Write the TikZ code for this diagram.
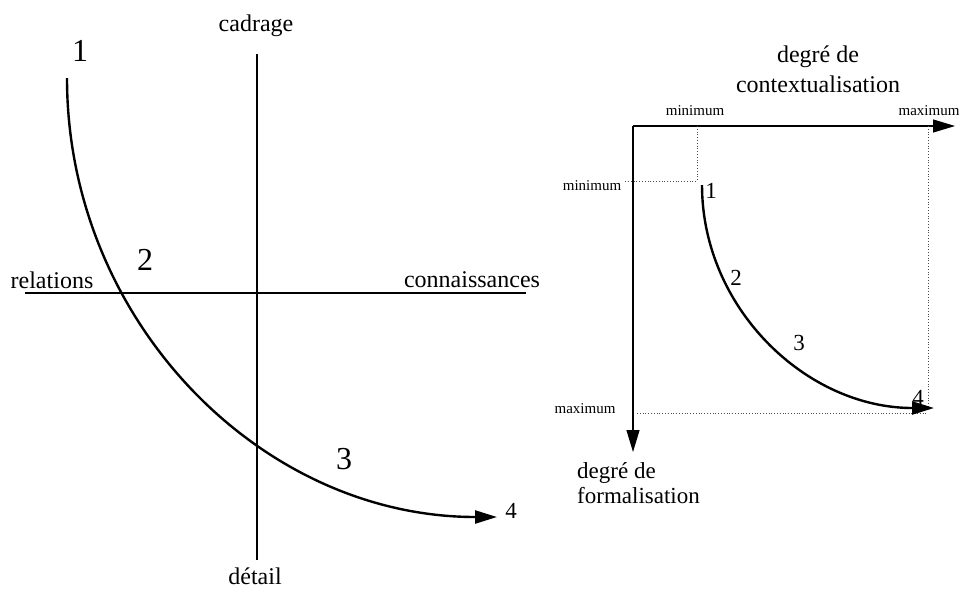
\documentclass[tikz,border=0pt]{standalone}
\usepackage{fontspec}
\setmainfont{Liberation Serif}
\usetikzlibrary{arrows.meta}
\tikzset{
  lbl/.style={inner sep=0pt, font=\fontsize{24}{26}\selectfont},
  num/.style={inner sep=0pt, font=\fontsize{32}{34}\selectfont},
  rnum/.style={inner sep=0pt, font=\fontsize{23}{25}\selectfont},
  small/.style={inner sep=0pt, font=\fontsize{15}{17}\selectfont},
  axis/.style={line width=1.2pt},
  bigarrow/.style={-{Triangle[length=22pt,width=13pt]}},
  curve/.style={line width=2.4pt},
  guide/.style={line width=0.8pt, dotted, black!70}
}
\begin{document}
\begin{tikzpicture}[x=1pt,y=-1pt]
\useasboundingbox (0,0) rectangle (960,590);
% ---------- left diagram ----------
\coordinate (vt) at (257,54);
\coordinate (vb) at (257,560);
\coordinate (hl) at (25,293);
\coordinate (hr) at (526,293);
\draw[axis] (vt) -- (vb);
\draw[axis] (hl) -- (hr);
\node[lbl] (cad) at (256,26) {cadrage};
\node[lbl] (det) at (255,576) {détail};
\node[lbl] (rel) at (52,280) {relations};
\node[lbl] (con) at (472,280) {connaissances};
\coordinate (s1) at (67,78);
\coordinate (e1) at (497,517);
\draw[curve,bigarrow] (s1) .. controls (67,320) and (260,517) .. (e1);
\node[num] (n1) at (80,51) {1};
\node[num] (n2) at (145,260) {2};
\node[num] (n3) at (344,459) {3};
\node[rnum] (n4) at (511,511) {4};
% ---------- right diagram ----------
\coordinate (o) at (633,126);
\coordinate (xe) at (955,126);
\coordinate (ye) at (633,452);
\draw[axis,bigarrow] (o) -- (xe);
\draw[axis,bigarrow] (o) -- (ye);
\node[lbl] (dgc) at (818,57) {degré de};
\node[lbl] (ctx) at (818,84) {contextualisation};
\node[small] (mint) at (695,111) {minimum};
\node[small] (maxt) at (929,111) {maximum};
\node[small] (minl) at (592,186) {minimum};
\node[small] (maxl) at (585,409) {maximum};
\node[lbl, align=left, anchor=north west, font=\fontsize{23}{25}\selectfont] (dgf) at (577,462) {degré de\\formalisation};
\coordinate (mx) at (697,126);
\coordinate (mc) at (697,181);
\coordinate (my) at (625,181);
\draw[guide] (mx) -- (mc) -- (my);
\coordinate (Mx) at (928,126);
\coordinate (Mc) at (928,408);
\coordinate (My) at (637,413);
\coordinate (Me) at (927,413);
\draw[guide] (Mx) -- (Mc);
\draw[guide] (My) -- (Me);
\coordinate (s2) at (702,185);
\coordinate (e2) at (934,408);
\draw[curve,bigarrow] (s2) .. controls (702,308) and (806,408) .. (e2);
\node[rnum] (m1) at (711,191) {1};
\node[rnum] (m2) at (736,278) {2};
\node[rnum] (m3) at (799,343) {3};
\node[rnum] (m4) at (918,398) {4};
\end{tikzpicture}
\end{document}
